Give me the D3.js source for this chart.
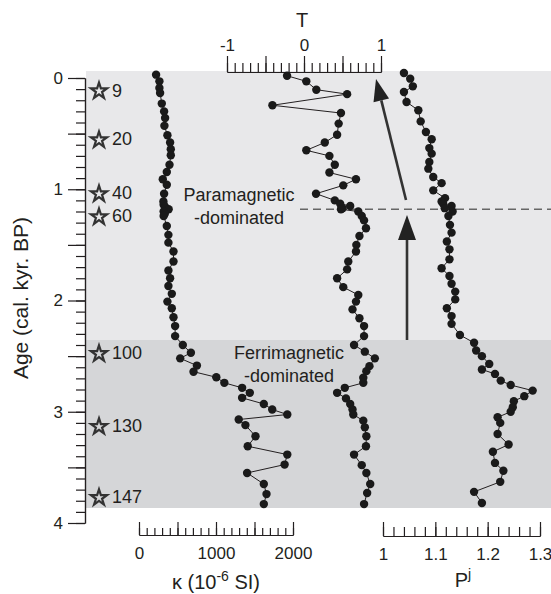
<!DOCTYPE html>
<html>
<head>
<meta charset="utf-8">
<script src="https://cdn.jsdelivr.net/npm/d3@7"></script>
<style>
  body { margin: 0; background: #fff; }
  svg text { font-family: "Liberation Sans", Arial, Helvetica, sans-serif; fill: #231f20; }
  .axis path, .axis line { stroke: #231f20; stroke-width: 1.2; }
</style>
</head>
<body>
<svg id="chart" width="551" height="594"></svg>
<script>
// magnetic susceptibility kappa (10^-6 SI)
const kappaAge = [-0.03, 0.03, 0.09, 0.135, 0.23, 0.30, 0.36, 0.43, 0.515, 0.58, 0.64, 0.695, 0.78, 0.845, 0.91, 0.96,
    1.04, 1.11, 1.14, 1.16, 1.18, 1.20, 1.22, 1.24, 1.33, 1.41, 1.48, 1.56, 1.65, 1.73, 1.80, 1.87, 1.94, 2.01, 2.07,
    2.15, 2.23, 2.32, 2.40, 2.47, 2.52, 2.585, 2.64, 2.69, 2.74, 2.785, 2.83, 2.875, 2.93, 2.98, 3.025, 3.07, 3.12,
    3.22, 3.31, 3.385, 3.475, 3.55, 3.65, 3.74, 3.83];
const kappaVal = [222, 265, 265, 274, 296, 326, 339, 330, 369, 404, 413, 413, 396, 361, 309, 361,
    326, 317, 320, 340, 385, 320, 335, 320, 361, 382, 382, 448, 448, 382, 404, 382, 426, 369, 426,
    448, 469, 469, 569, 674, 535, 752, 708, 1004, 1108, 1339, 1439, 1339, 1621, 1730, 1926, 1295, 1382,
    1513, 1412, 1926, 1891, 1404, 1621, 1656, 1621];

// shape parameter T
const tAge = [-0.02, 0.03, 0.105, 0.145, 0.245, 0.315, 0.41, 0.51, 0.58, 0.65, 0.70, 0.78, 0.85, 0.91, 0.965,
    1.04, 1.10, 1.13, 1.15, 1.17, 1.18, 1.20, 1.24, 1.28, 1.35, 1.42, 1.50, 1.56, 1.65, 1.72, 1.80, 1.88, 1.95,
    2.01, 2.08, 2.16, 2.23, 2.32, 2.40, 2.46, 2.52, 2.59, 2.635, 2.695, 2.74, 2.785, 2.83, 2.88, 2.93, 2.98,
    3.025, 3.08, 3.14, 3.22, 3.31, 3.385, 3.48, 3.55, 3.65, 3.73, 3.83];
const tVal = [-0.22, 0.03, 0.16, 0.56, -0.41, 0.48, 0.45, 0.43, 0.27, 0.03, 0.33, 0.40, 0.33, 0.675, 0.51,
    0.156, 0.40, 0.47, 0.60, 0.50, 0.48, 0.705, 0.75, 0.78, 0.805, 0.72, 0.68, 0.675, 0.575, 0.56, 0.43, 0.51, 0.705,
    0.675, 0.63, 0.72, 0.78, 0.78, 0.65, 0.79, 0.92, 0.85, 0.81, 0.77, 0.77, 0.53, 0.43, 0.545, 0.60, 0.63,
    0.64, 0.77, 0.79, 0.81, 0.805, 0.65, 0.75, 0.81, 0.86, 0.82, 0.78];

// corrected anisotropy degree Pj
const pjAge = [-0.045, 0.006, 0.075, 0.126, 0.216, 0.29, 0.39, 0.485, 0.55, 0.63, 0.68, 0.755, 0.815, 0.89, 0.945,
    1.01, 1.08, 1.11, 1.13, 1.15, 1.17, 1.20, 1.24, 1.32, 1.39, 1.47, 1.54, 1.63, 1.71, 1.78, 1.85, 1.92, 1.99,
    2.07, 2.14, 2.21, 2.31, 2.38, 2.45, 2.50, 2.57, 2.62, 2.66, 2.72, 2.76, 2.81, 2.86, 2.905, 2.96, 3.00,
    3.05, 3.10, 3.20, 3.295, 3.36, 3.46, 3.53, 3.63, 3.72, 3.82];
const pjVal = [1.040, 1.052, 1.057, 1.040, 1.045, 1.0675, 1.072, 1.082, 1.093, 1.0885, 1.093, 1.0885, 1.0866, 1.096, 1.112,
    1.096, 1.1185, 1.112, 1.115, 1.131, 1.118, 1.133, 1.125, 1.128, 1.131, 1.122, 1.127, 1.127, 1.112, 1.127, 1.131, 1.138, 1.138,
    1.122, 1.131, 1.131, 1.147, 1.174, 1.178, 1.189, 1.203, 1.189, 1.214, 1.225, 1.244, 1.286, 1.270, 1.250, 1.248, 1.244,
    1.219, 1.224, 1.219, 1.240, 1.210, 1.214, 1.230, 1.224, 1.174, 1.189];

// dated levels (stars)
const starAge = [0.108, 0.548, 1.033, 1.24, 2.47, 3.125, 3.764];
const starLabel = ["9", "20", "40", "60", "100", "130", "147"];

// shaded zones and boundary
const zoneTop = [-0.063, 2.355];
const zoneBottom = [2.355, 3.865];
const boundaryAge = 1.18;

// tick values
const ageMajor = [0, 0.5, 1, 1.5, 2, 2.5, 3, 3.5, 4];
const ageLabels = [0, 1, 2, 3, 4];
const kappaMajor = [0, 500, 1000, 1500, 2000];
const kappaLabels = [0, 1000, 2000];
const tMajor = [-1, -0.5, 0, 0.5, 1];
const tLabels = [-1, 0, 1];
const pjMajor = [1, 1.1, 1.2, 1.3];
const pjLabels = ["1", "1.1", "1.2", "1.3"];

const svg = d3.select("#chart");

const y = d3.scaleLinear().domain([0, 4]).range([78, 523]);
const xK = d3.scaleLinear().domain([0, 2000]).range([139, 293]);
const xT = d3.scaleLinear().domain([-1, 1]).range([227, 381]);
const xP = d3.scaleLinear().domain([1, 1.3]).range([383, 540]);

// background zones
svg.append("rect")
    .attr("x", 86).attr("width", 551 - 86)
    .attr("y", y(zoneTop[0])).attr("height", y(zoneTop[1]) - y(zoneTop[0]))
    .attr("fill", "#e8e8ea");
svg.append("rect")
    .attr("x", 86).attr("width", 551 - 86)
    .attr("y", y(zoneBottom[0])).attr("height", y(zoneBottom[1]) - y(zoneBottom[0]))
    .attr("fill", "#d5d6d8");

// dashed boundary
svg.append("line")
    .attr("x1", 300).attr("x2", 551)
    .attr("y1", y(boundaryAge)).attr("y2", y(boundaryAge))
    .attr("stroke", "#666").attr("stroke-width", 1.5)
    .attr("stroke-dasharray", "8,5");

// arrows
function arrow(x1, y1, x2, y2, len, half) {
    let a = Math.atan2(y2 - y1, x2 - x1);
    let bx = x2 - len * Math.cos(a), by = y2 - len * Math.sin(a);
    svg.append("line")
        .attr("x1", x1).attr("y1", y1).attr("x2", bx).attr("y2", by)
        .attr("stroke", "#333").attr("stroke-width", 2.6);
    let px = -Math.sin(a) * half, py = Math.cos(a) * half;
    svg.append("path")
        .attr("d", "M" + x2 + "," + y2 + "L" + (bx + px) + "," + (by + py) + "L" + (bx - px) + "," + (by - py) + "Z")
        .attr("fill", "#222");
}
arrow(407, y(zoneTop[1]), 407, 215, 25, 9);
arrow(406, 200, 376, 79, 22, 8);

// axes: minor + major ticks
function ticksAxis(axis, tr, minor, major, minorLen, majorLen, fmt, pad) {
    svg.append("g").attr("class", "axis").attr("transform", tr)
        .call(axis.tickValues(minor).tickSizeInner(minorLen).tickSizeOuter(0).tickFormat(""));
    let g = svg.append("g").attr("class", "axis").attr("transform", tr)
        .call(axis.tickValues(major).tickSizeInner(majorLen).tickSizeOuter(0).tickFormat(fmt).tickPadding(pad));
    g.selectAll("text").style("font-size", "17px").attr("fill", "#231f20");
    return g;
}

ticksAxis(d3.axisLeft(y), "translate(85,0)", d3.range(0, 4.001, 0.1), ageMajor, 9, 17,
    function(d) { return ageLabels.indexOf(d) >= 0 ? d : ""; }, 5);

ticksAxis(d3.axisBottom(xK), "translate(0,535)", d3.range(0, 2001, 100), kappaMajor, -7, -13,
    function(d) { return kappaLabels.indexOf(d) >= 0 ? d : ""; }, 12);

ticksAxis(d3.axisTop(xT), "translate(0,72)", d3.range(-1, 1.001, 0.1), tMajor, 9, 16,
    function(d) { return tLabels.indexOf(d) >= 0 ? String(d).replace("\u2212", "-") : ""; }, 5);

ticksAxis(d3.axisBottom(xP), "translate(0,536)", d3.range(1, 1.3001, 0.02), pjMajor, -9, -14,
    function(d, i) { return pjLabels[i]; }, 12);

// axis titles
svg.append("text")
    .attr("transform", "translate(28,298) rotate(-90)")
    .attr("text-anchor", "middle")
    .style("font-size", "21px")
    .text("Age (cal. kyr. BP)");

svg.append("text").attr("x", 302).attr("y", 27)
    .attr("text-anchor", "middle").style("font-size", "20px").text("T");

let kt = svg.append("text").attr("x", 216).attr("y", 589)
    .attr("text-anchor", "middle").style("font-size", "20px");
kt.append("tspan").text("\u03ba (10");
kt.append("tspan").attr("dy", -8).style("font-size", "14px").text("-6");
kt.append("tspan").attr("dy", 8).text(" SI)");

let pt = svg.append("text").attr("x", 463).attr("y", 587)
    .attr("text-anchor", "middle").style("font-size", "20px");
pt.append("tspan").text("P");
pt.append("tspan").attr("dy", -8).style("font-size", "14px").text("j");

// zone labels
function label(lines, x, y0) {
    lines.forEach(function(s, i) {
        svg.append("text").attr("x", x).attr("y", y0 + i * 23)
            .attr("text-anchor", "middle").style("font-size", "18px").text(s);
    });
}
label(["Paramagnetic", "-dominated"], 239, 201);
label(["Ferrimagnetic", "-dominated"], 289, 359);

// stars
let stars = svg.selectAll(".star").data(starAge).enter().append("g")
    .attr("class", "star")
    .attr("transform", function(d) { return "translate(99," + y(d) + ")"; });
stars.append("path")
    .attr("d", d3.symbol().type(d3.symbolStar).size(80))
    .attr("transform", "translate(0,1)")
    .attr("fill", "none").attr("stroke", "#333").attr("stroke-width", 2.2);
stars.append("text")
    .attr("x", 13).attr("y", 6.5)
    .style("font-size", "18px")
    .text(function(d, i) { return starLabel[i]; });

// profiles
function profile(ages, vals, x) {
    let pts = ages.map(function(a, i) { return [x(vals[i]), y(a)]; });
    svg.append("path")
        .attr("d", d3.line()(pts))
        .attr("fill", "none").attr("stroke", "#231f20").attr("stroke-width", 1);
    svg.append("g").selectAll("circle").data(pts).enter().append("circle")
        .attr("cx", function(d) { return d[0]; })
        .attr("cy", function(d) { return d[1]; })
        .attr("r", 4.2)
        .attr("fill", "#1a1a1a");
}
profile(kappaAge, kappaVal, xK);
profile(tAge, tVal, xT);
profile(pjAge, pjVal, xP);
</script>
</body>
</html>
